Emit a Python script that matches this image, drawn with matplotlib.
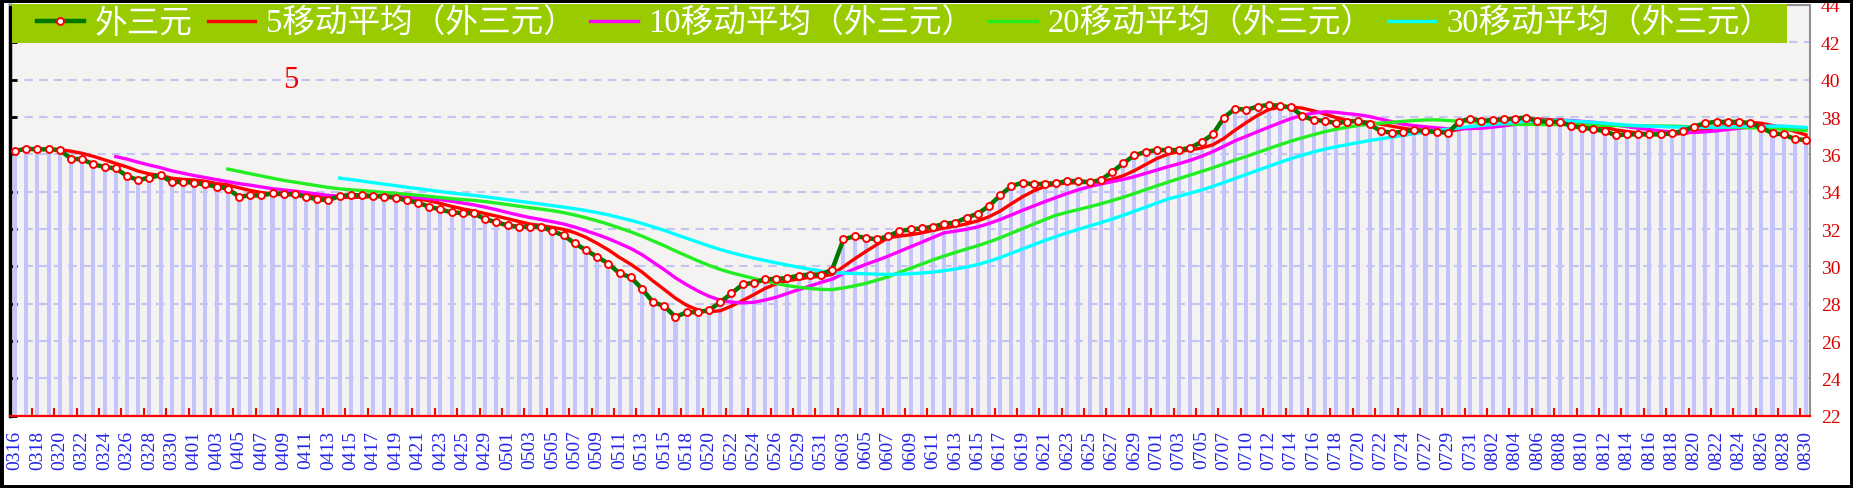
import numpy as np
import pandas as pd
import matplotlib
matplotlib.use("Agg")
import matplotlib.pyplot as plt
from matplotlib.patches import Rectangle
from matplotlib.font_manager import FontProperties

# Ngày (mmdd), mỗi ngày một điểm
dates = """0316 0317 0318 0319 0320 0321 0322 0323 0324 0325 0326 0327 0328 0329 0330 0331
0401 0402 0403 0404 0405 0406 0407 0408 0409 0410 0411 0412 0413 0414 0415 0416 0417
0418 0419 0420 0421 0422 0423 0424 0425 0426 0429 0430
0501 0502 0503 0504 0505 0506 0507 0508 0509 0510 0511 0512 0513 0514 0515 0516 0518
0519 0520 0521 0522 0523 0524 0525 0526 0527 0529 0530 0531 0601
0603 0604 0605 0606 0607 0608 0609 0610 0611 0612 0613 0614 0615 0616 0617 0618 0619
0620 0621 0622 0623 0624 0625 0626 0627 0628 0629 0630
0701 0702 0703 0704 0705 0706 0707 0708 0710 0711 0712 0713 0714 0715 0716 0717 0718
0719 0720 0721 0722 0723 0724 0725 0727 0728 0729 0730 0731
0801 0802 0803 0804 0805 0806 0807 0808 0809 0810 0811 0812 0813 0814 0815 0816 0817
0818 0819 0820 0821 0822 0823 0824 0825 0826 0827 0828 0829 0830""".split()

# Giá trị 外三元
values = [
    36.18, 36.30, 36.27, 36.27, 36.23, 35.77, 35.73, 35.47, 35.32, 35.25,
    34.84, 34.62, 34.75, 34.88, 34.52, 34.52, 34.48, 34.39, 34.27, 34.16,
    33.73, 33.80, 33.80, 33.91, 33.89, 33.85, 33.73, 33.59, 33.55, 33.77,
    33.82, 33.80, 33.77, 33.73, 33.68, 33.53, 33.41, 33.19, 33.05, 32.89,
    32.85, 32.84, 32.52, 32.37, 32.19, 32.12, 32.12, 32.12, 31.89, 31.66,
    31.23, 30.87, 30.51, 30.15, 29.62, 29.42, 28.80, 28.08, 27.87, 27.29,
    27.54, 27.54, 27.65, 28.08, 28.55, 29.03, 29.12, 29.30, 29.33, 29.37,
    29.51, 29.56, 29.56, 29.83, 31.44, 31.62, 31.53, 31.44, 31.62, 31.89,
    31.98, 32.03, 32.12, 32.28, 32.34, 32.61, 32.82, 33.23, 33.80, 34.30,
    34.48, 34.39, 34.43, 34.45, 34.57, 34.57, 34.50, 34.63, 35.05, 35.52,
    35.95, 36.13, 36.23, 36.23, 36.23, 36.36, 36.66, 37.07, 37.97, 38.45,
    38.38, 38.56, 38.65, 38.60, 38.51, 38.06, 37.84, 37.79, 37.67, 37.74,
    37.79, 37.61, 37.25, 37.16, 37.20, 37.31, 37.25, 37.20, 37.16, 37.74,
    37.92, 37.79, 37.84, 37.88, 37.92, 37.97, 37.79, 37.74, 37.74, 37.52,
    37.43, 37.34, 37.25, 37.02, 37.07, 37.07, 37.07, 37.07, 37.13, 37.25,
    37.49, 37.67, 37.74, 37.74, 37.74, 37.67, 37.43, 37.13, 37.07, 36.81,
    36.77,
]

ma_windows = [5, 10, 20, 30]
ma_colors = ['#ff0000', '#ff00ff', '#22ee22', '#00ffff']
series_name = '外三元'
y_ticks = list(range(22, 45, 2))

# Khung hình
W, H = 1853, 489
fig = plt.figure(figsize=(W / 100, H / 100), dpi=100)
fig.patch.set_facecolor('white')
ax = fig.add_axes([10 / W, 72.3 / H, 1800 / W, 410.7 / H])
ax.set_facecolor('#f4f3f1')

x = np.arange(len(values))
s = pd.Series(values)

# Cột nền
ax.bar(x, values, width=0.36, color='#c4c4fc', zorder=1)

# Đường dữ liệu
line_main, = ax.plot(x, values, color='#007800', lw=3.2, marker='o', ms=5,
                     mfc='white', mec='#ff0000', mew=1.4, zorder=4, label=series_name)

handles = [line_main]
for w, c in zip(ma_windows, ma_colors):
    ma = s.rolling(w).mean()
    h, = ax.plot(x, ma, color=c, lw=2.4, zorder=3, label=f'{w}移动平均（{series_name}）')
    handles.append(h)

ax.set_xlim(-0.45, len(values) - 1 + 0.35)
ax.set_ylim(22, 44)

# Lưới ngang
ax.set_yticks(y_ticks)
ax.yaxis.grid(True, color='#c4c4f2', lw=1.5, ls=(0, (4, 3)))
ax.set_axisbelow(True)

serif = FontProperties(family=['Liberation Serif', 'Noto Sans CJK SC'], size=14)
ax.tick_params(axis='y', left=True, right=False, labelleft=False, labelright=True,
               direction='in', length=5, width=2, color='black', labelcolor='#dd0000', pad=8)
for t in ax.get_yticklabels():
    t.set_fontproperties(serif)

ax.set_xticks(x[::2])
ax.set_xticklabels(dates[::2], rotation=90)
ax.set_xticks(x[1:-1:2] + 0.5, minor=True)
ax.tick_params(axis='x', which='major', length=0, labelcolor='#2424e6', pad=10)
ax.tick_params(axis='x', which='minor', direction='in', length=6, width=1.5, color='#ff0000')
for t in ax.get_xticklabels():
    t.set_fontproperties(FontProperties(family='Liberation Serif', size=14))

ax.spines['left'].set_color('black')
ax.spines['left'].set_linewidth(2.5)
ax.spines['bottom'].set_color('#ff0000')
ax.spines['bottom'].set_linewidth(1.6)
for side in ['top', 'right']:
    ax.spines[side].set_color('#909090')
    ax.spines[side].set_linewidth(1.5)

# Chú thích
ax.add_patch(Rectangle((0.001, 0.908), 0.986, 0.094, transform=ax.transAxes,
                       facecolor='#99cc00', edgecolor='none', zorder=6, clip_on=False))
leg = ax.legend(handles=handles, ncol=5, loc='center', mode='expand',
                bbox_to_anchor=(0.014, 0.908, 0.966, 0.094), frameon=False,
                prop=FontProperties(family=['Liberation Serif', 'Noto Sans CJK SC'], size=23.5),
                labelcolor='white', handlelength=1.45, handletextpad=0.33,
                borderaxespad=0, borderpad=0.05)
leg.set_zorder(7)

ax.text(0.156, (40 - 22) / 22, '5', transform=ax.transAxes, ha='center', va='center',
        color='#ee0000', fontsize=22, family='Liberation Serif', zorder=5)

# Viền đen ngoài
fig.add_artist(Rectangle((0, 0), 1, 1, transform=fig.transFigure, fill=False,
                         edgecolor='black', lw=5))

fig.savefig('out.png', dpi=100)
